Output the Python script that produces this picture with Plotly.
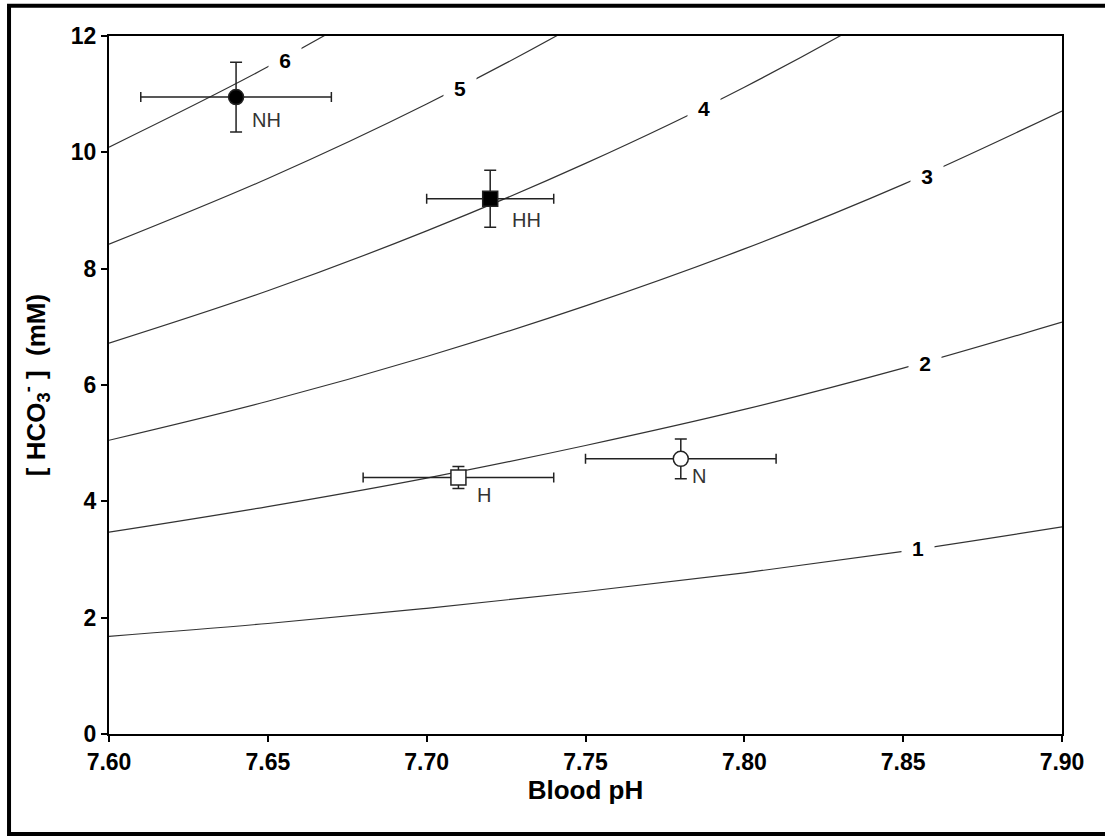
import plotly.graph_objects as go

# PCO2 isopleths (pH grid, [HCO3-] mM)
ph_grid = [7.60, 7.65, 7.70, 7.75, 7.80, 7.85, 7.90]
iso_1 = [1.68, 1.90, 2.16, 2.45, 2.77, 3.14, 3.56]
iso_2 = [3.47, 3.91, 4.40, 4.96, 5.58, 6.29, 7.08]
iso_3 = [5.05, 5.72, 6.49, 7.36, 8.34, 9.45, 10.71]
iso_4 = [6.72, 7.62, 8.65, 9.81, 11.12, 12.62, 14.3]
iso_5 = [8.42, 9.55, 10.83, 12.28, 13.9, 15.8, 17.9]
iso_6 = [10.09, 11.47, 13.04, 14.8, 16.8, 19.1, 21.7]
iso_names = ["1", "2", "3", "4", "5", "6"]
iso_label_x = [7.8547, 7.8569, 7.8575, 7.7873, 7.7105, 7.6554]
iso_label_y = [3.20, 6.37, 9.60, 10.77, 11.10, 11.58]

# group means and errors
grp_names = ["NH", "HH", "H", "N"]
grp_ph = [7.64, 7.72, 7.71, 7.78]
grp_hco3 = [10.95, 9.20, 4.41, 4.73]
grp_ph_err = [0.03, 0.02, 0.03, 0.03]
grp_hco3_err = [0.60, 0.49, 0.19, 0.34]
grp_symbol = ["circle", "square", "square", "circle"]
grp_fill = ["black", "black", "white", "white"]
grp_label_x = [7.6444, 7.7262, 7.7152, 7.7830]
grp_label_y = [10.55, 8.83, 4.11, 4.43]

FONT = "Arial, Liberation Sans, sans-serif"

fig = go.Figure()

for ys in [iso_1, iso_2, iso_3, iso_4, iso_5, iso_6]:
    fig.add_trace(go.Scatter(x=ph_grid, y=ys, mode="lines",
                             line=dict(color="#333333", width=1.2, shape="spline"),
                             showlegend=False, hoverinfo="skip"))

for i in range(len(grp_names)):
    fig.add_trace(go.Scatter(
        x=[grp_ph[i]], y=[grp_hco3[i]], mode="markers",
        marker=dict(symbol=grp_symbol[i], size=15,
                    color=grp_fill[i], line=dict(color="#222222", width=1.5)),
        error_x=dict(type="data", array=[grp_ph_err[i]], color="#222222", thickness=1.5, width=5),
        error_y=dict(type="data", array=[grp_hco3_err[i]], color="#222222", thickness=1.5, width=6),
        showlegend=False))

annotations = []
for name, lx, ly in zip(iso_names, iso_label_x, iso_label_y):
    annotations.append(dict(x=lx, y=ly, xref="x", yref="y", text="<b>%s</b>" % name,
                            showarrow=False, bgcolor="white", width=30, height=24,
                            font=dict(family=FONT, size=21, color="black")))
for name, lx, ly in zip(grp_names, grp_label_x, grp_label_y):
    annotations.append(dict(x=lx, y=ly, xref="x", yref="y", text=name, xanchor="left",
                            showarrow=False, font=dict(family=FONT, size=20, color="#333333")))

fig.update_layout(
    width=1105, height=836,
    margin=dict(l=109, r=43, t=36, b=102),
    paper_bgcolor="white", plot_bgcolor="white",
    font=dict(family=FONT, size=20, color="black"),
    annotations=annotations,
    shapes=[dict(type="rect", xref="paper", yref="paper",
                 x0=-0.1049, x1=1.05, y0=-0.1434, y1=1.0432,
                 line=dict(color="black", width=4), layer="above")],
)
fig.update_xaxes(range=[7.60, 7.90], tickvals=[7.60, 7.65, 7.70, 7.75, 7.80, 7.85, 7.90],
                 ticktext=["<b>7.60</b>", "<b>7.65</b>", "<b>7.70</b>", "<b>7.75</b>", "<b>7.80</b>", "<b>7.85</b>", "<b>7.90</b>"],
                 showline=True, linecolor="black", linewidth=2, mirror=True,
                 ticks="outside", ticklen=6, tickwidth=1.5, tickcolor="black",
                 showgrid=False, zeroline=False, tickfont=dict(size=23),
                 title=dict(text="<b>Blood pH</b>", font=dict(size=26), standoff=2))
fig.update_yaxes(range=[0, 12], tickvals=[0, 2, 4, 6, 8, 10, 12],
                 ticktext=["<b>%d</b>" % v for v in [0, 2, 4, 6, 8, 10, 12]],
                 showline=True, linecolor="black", linewidth=2, mirror=True,
                 ticks="outside", ticklen=6, tickwidth=1.5, tickcolor="black",
                 showgrid=False, zeroline=False, tickfont=dict(size=23),
                 title=dict(text="<b>[ HCO<sub>3</sub><sup>-</sup> ]&nbsp;&nbsp;(mM)</b>", font=dict(size=26), standoff=18))

fig.write_html("out.html", config={"displayModeBar": False},
               post_script="document.body.style.margin='0';document.body.style.padding='0';")
